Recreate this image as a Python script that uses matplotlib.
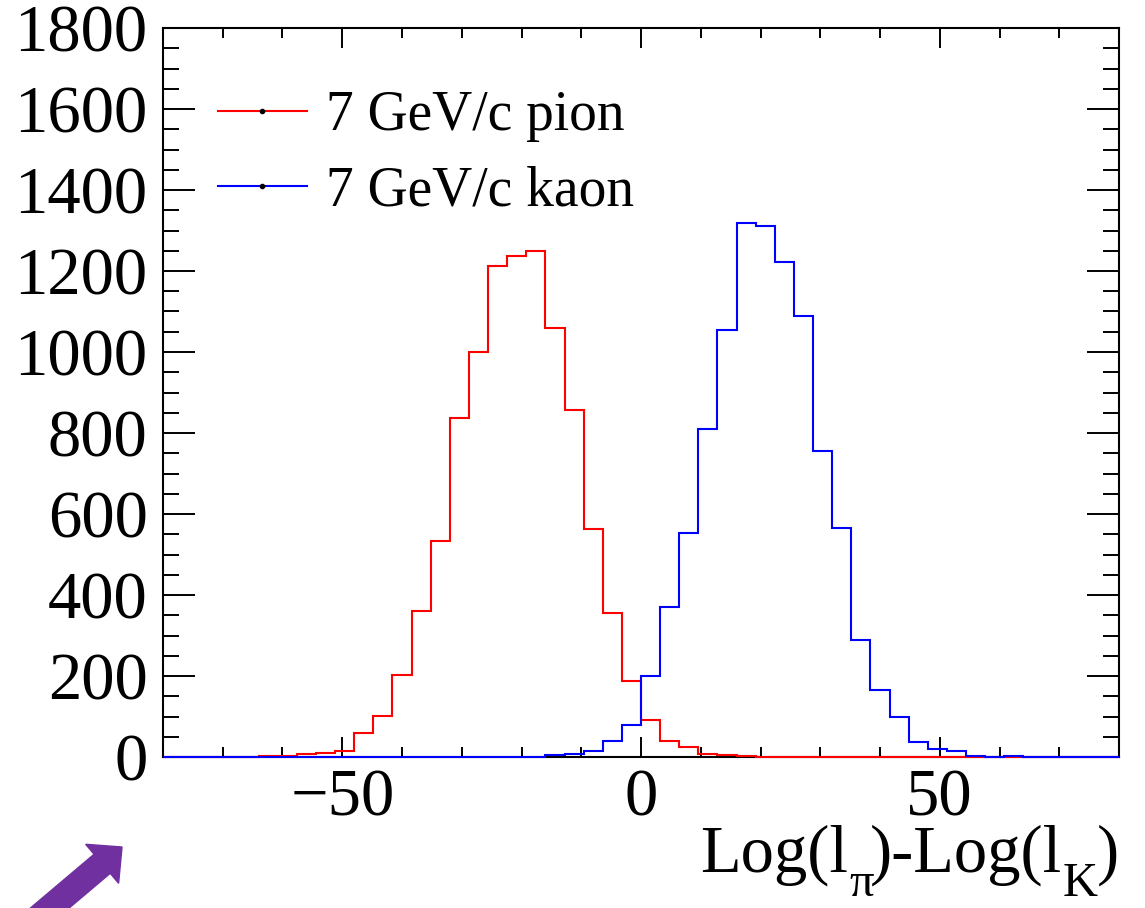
import numpy as np
import matplotlib
matplotlib.use('Agg')
from matplotlib import pyplot as plt
from matplotlib.lines import Line2D
from matplotlib.patches import FancyArrow
from matplotlib.transforms import IdentityTransform

# data (50 bins from -80 to 80)
x_min, x_max, n_bins = -80, 80, 50
pion = [0, 0, 0, 0, 1, 2, 2, 7, 10, 15,
        60, 101, 202, 360, 534, 838, 1000, 1212, 1238, 1249,
        1060, 856, 562, 355, 188, 92, 39, 25, 8, 5,
        2, 1, 0, 0, 0, 0, 0, 0, 0, 0,
        0, 0, 0, 0, 0, 0, 0, 0, 0, 0]
kaon = [0, 0, 0, 0, 0, 0, 0, 0, 0, 0,
        0, 0, 0, 0, 0, 0, 0, 1, 0, 1,
        4, 7, 14, 40, 80, 200, 370, 552, 811, 1054,
        1319, 1312, 1223, 1089, 755, 565, 290, 166, 98, 38,
        19, 14, 2, 1, 2, 0, 0, 0, 0, 0]
labels = ['7 GeV/c pion', '7 GeV/c kaon']
colors = ['#ff0000', '#0000ff']

plt.rcParams['font.family'] = ['Liberation Serif', 'DejaVu Serif']

fig = plt.figure(figsize=(11.45, 9.08), dpi=100)
ax = fig.add_axes([163 / 1145, 151 / 908, 956 / 1145, 729 / 908])

edges = np.linspace(x_min, x_max, n_bins + 1)
ax.stairs(pion, edges, color=colors[0], linewidth=1.5, baseline=None,
          zorder=3, clip_on=False)
ax.stairs(kaon, edges, color=colors[1], linewidth=1.5, baseline=None,
          zorder=3, clip_on=False)

ax.set_xlim(x_min, x_max)
ax.set_ylim(0, 1800)
ax.set_xticks([-50, 0, 50])
ax.set_xticks(np.arange(-80, 81, 10), minor=True)
ax.set_yticks(np.arange(0, 1801, 200))
ax.set_yticks(np.arange(0, 1801, 50), minor=True)

for s in ax.spines.values():
    s.set_linewidth(1.5)
ax.tick_params(which='both', direction='in', top=True, right=True, width=1.4,
               labelsize=48)
ax.tick_params(axis='x', which='major', length=14.5, pad=8)
ax.tick_params(axis='x', which='minor', length=7.2)
ax.tick_params(axis='y', which='major', length=23, pad=11)
ax.tick_params(axis='y', which='minor', length=11.5)

# x title, ROOT style with big low subscripts
t1 = fig.text(700 / 1145, (908 - 872) / 908, 'Log(l', fontsize=48,
              va='baseline')
t2 = ax.annotate('\u03c0', xy=(1, 0), xycoords=t1, xytext=(1, -20),
                 textcoords='offset pixels', fontsize=35, va='bottom',
                 annotation_clip=False)
t3 = ax.annotate(')-Log(l', xy=(1, 0), xycoords=(t2, t1), xytext=(-4, 0),
                 textcoords='offset pixels', fontsize=48, va='bottom',
                 annotation_clip=False)
t4 = ax.annotate('K', xy=(1, 0), xycoords=t3, xytext=(1, -20),
                 textcoords='offset pixels', fontsize=35, va='bottom',
                 annotation_clip=False)
t5 = ax.annotate(')', xy=(1, 0), xycoords=(t4, t1), xytext=(-1, 0),
                 textcoords='offset pixels', fontsize=48, va='bottom',
                 annotation_clip=False)

handles = [Line2D([], [], color=c, linewidth=1.5, marker='o', markersize=3,
                  markerfacecolor='black', markeredgecolor='black')
           for c in colors]
ax.legend(handles, labels, loc='upper left', bbox_to_anchor=(0.0575, 0.915),
          frameon=False, fontsize=40, handlelength=1.6, handletextpad=0.35,
          labelspacing=0.43, borderpad=0, borderaxespad=0)

# purple arrow in the lower left corner
fig.add_artist(FancyArrow(38, -10, 84, 71, width=25, head_width=51,
                          head_length=26, length_includes_head=True,
                          color='#7030A0', transform=IdentityTransform()))

fig.savefig('out.png', dpi=100)
